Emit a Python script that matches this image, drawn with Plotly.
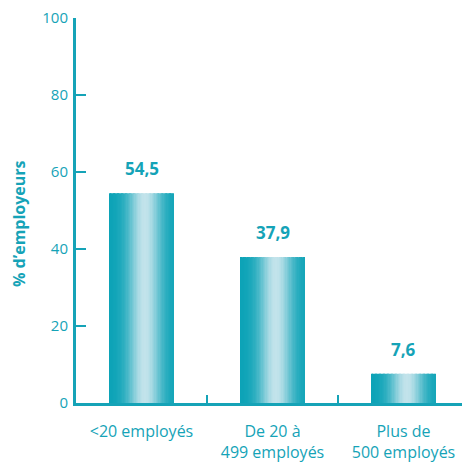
import math
import plotly.graph_objects as go

categories = ["<20 employés", "De 20 à<br>499 employés", "Plus de<br>500 employés"]
values = [54.5, 37.9, 7.6]
y_ticks = [0, 20, 40, 60, 80, 100]
y_title = "% d’employeurs"

TEAL = "#15a3b7"
FONT = "Open Sans"

dark = (10, 162, 182)
light = (194, 227, 235)
N = 48
bar_w = 0.49

fig = go.Figure()
for i in range(N):
    t = (i + 0.5) / N
    s = math.exp(-((t - 0.56) / 0.26) ** 2)
    c = tuple(round(dark[k] + (light[k] - dark[k]) * s) for k in range(3))
    col = "rgb(%d,%d,%d)" % c
    fig.add_trace(go.Bar(
        x=categories, y=values,
        width=bar_w / N * 1.05,
        offset=-bar_w / 2 + i * bar_w / N,
        marker=dict(color=col, line=dict(width=0)),
        hoverinfo="skip", showlegend=False,
    ))

for cat, v in zip(categories, values):
    fig.add_annotation(
        x=cat, y=v, text=("%.1f" % v).replace(".", ","),
        showarrow=False, yanchor="bottom", yshift=11,
        font=dict(family=FONT, size=17, color=TEAL, weight="bold"),
    )

fig.add_annotation(
    xref="paper", yref="paper", x=0, y=0.465, xshift=-57,
    text="<b>" + y_title + "</b>", textangle=-90, showarrow=False,
    xanchor="center", yanchor="middle",
    font=dict(family=FONT, size=16, color=TEAL),
)

fig.update_layout(
    width=462, height=458,
    margin=dict(l=68, r=1, t=10, b=63, autoexpand=False),
    barmode="overlay",
    paper_bgcolor="white", plot_bgcolor="white",
    showlegend=False,
    xaxis=dict(
        type="category",
        range=[-0.5, 2.5],
        automargin=False,
        showline=True, linecolor=TEAL, linewidth=3,
        tickson="boundaries", ticks="inside", ticklen=8, tickwidth=2, tickcolor=TEAL,
        tickfont=dict(family=FONT, size=16, color=TEAL),
        ticklabelstandoff=12,
        showgrid=False, zeroline=False,
    ),
    yaxis=dict(
        range=[0, 100],
        tickvals=y_ticks,
        automargin=False,
        showline=True, linecolor=TEAL, linewidth=3,
        ticks="inside", ticklen=10, tickwidth=2, tickcolor=TEAL,
        tickfont=dict(family=FONT, size=15, color=TEAL),
        ticklabelstandoff=2,
        ticklabeloverflow="allow",
        showgrid=False, zeroline=False,
    ),
)

fig.write_html("out.html")
